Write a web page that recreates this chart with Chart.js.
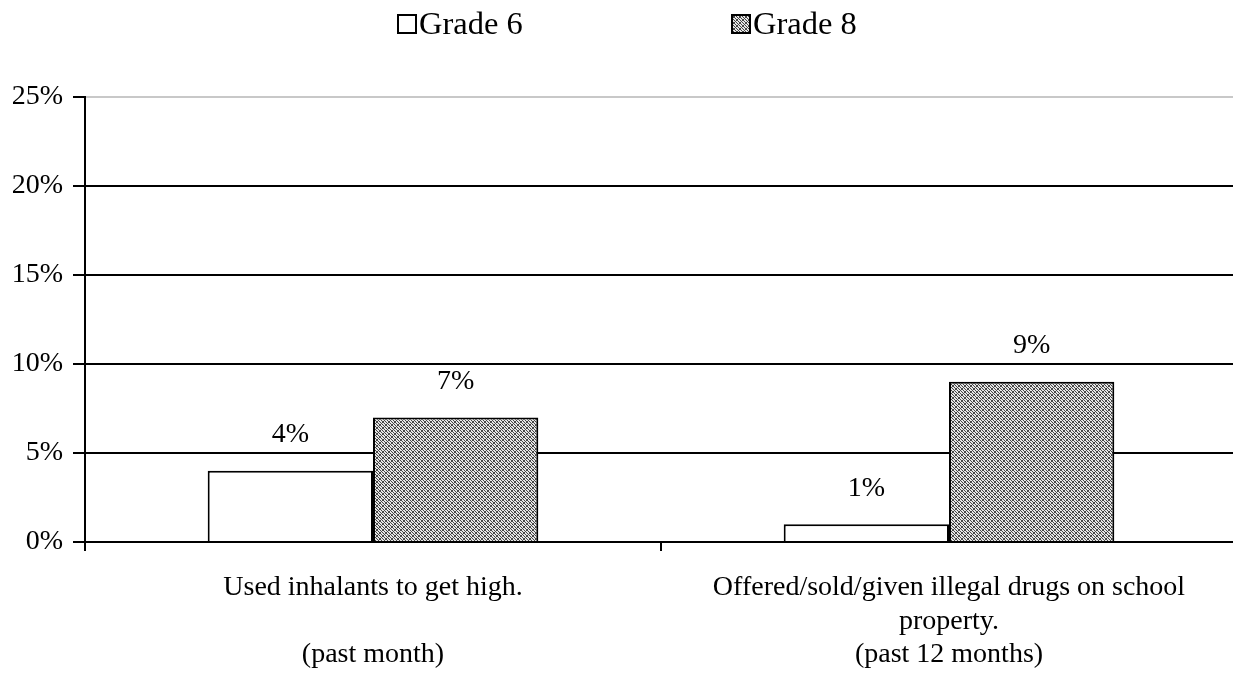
<!DOCTYPE html>
<html>
<head>
<meta charset="utf-8">
<script src="https://cdn.jsdelivr.net/npm/chart.js@4/dist/chart.umd.min.js"></script>
<style>
html,body{margin:0;padding:0;background:#fff;overflow:hidden;}
#wrap{width:1238px;height:691px;position:relative;}
</style>
</head>
<body>
<div id="wrap"><canvas id="c"></canvas></div>
<script>
const categories = [
  ["Used inhalants to get high.", "", "(past month)"],
  ["Offered/sold/given illegal drugs on school", "property.", "(past 12 months)"]
];
const seriesNames = ["Grade 6", "Grade 8"];
const grade6 = [4, 1];
const grade8 = [7, 9];
const yTicks = [0, 5, 10, 15, 20, 25];

const FONT = "'Liberation Serif', 'Times New Roman', serif";

function makeHatch() {
  const size = 6;
  const cv = document.createElement('canvas');
  cv.width = size; cv.height = size;
  const cx = cv.getContext('2d');
  const img = cx.createImageData(size, size);
  for (let y = 0; y < size; y++) {
    for (let x = 0; x < size; x++) {
      const i = (y * size + x) * 4;
      const dark = ((x - y + 6) % 3 === 0) || ((x + y) % 6 === 0);
      const v = dark ? 70 : 230;
      img.data[i] = v; img.data[i+1] = v; img.data[i+2] = v; img.data[i+3] = 255;
    }
  }
  cx.putImageData(img, 0, 0);
  return cx.createPattern(cv, 'repeat');
}
const hatch = makeHatch();

const valueLabels = {
  id: 'valueLabels',
  afterDatasetsDraw(chart) {
    const ctx = chart.ctx;
    ctx.save();
    ctx.font = "28px " + FONT;
    ctx.fillStyle = '#000';
    ctx.textAlign = 'center';
    ctx.textBaseline = 'middle';
    chart.data.datasets.forEach((ds, di) => {
      chart.getDatasetMeta(di).data.forEach((bar, i) => {
        ctx.fillText(ds.data[i] + '%', bar.x, bar.y - 36);
      });
    });
    ctx.restore();
  }
};

const customLegend = {
  id: 'customLegend',
  afterDraw(chart) {
    const ctx = chart.ctx;
    const starts = [0.3207, 0.5905];
    ctx.save();
    ctx.font = "32.5px " + FONT;
    ctx.textBaseline = 'middle';
    ctx.textAlign = 'left';
    chart.data.datasets.forEach((ds, i) => {
      const x = Math.round(chart.width * starts[i]);
      const y = 14;
      const s = 20;
      ctx.fillStyle = ds.backgroundColor;
      ctx.fillRect(x, y, s, s);
      ctx.strokeStyle = '#000';
      ctx.lineWidth = 2;
      ctx.strokeRect(x + 1, y + 1, s - 2, s - 2);
      ctx.fillStyle = '#000';
      ctx.fillText(ds.label, x + s + 2, y + s / 2 + 1);
    });
    ctx.restore();
  }
};

new Chart(document.getElementById('c'), {
  type: 'bar',
  data: {
    labels: categories,
    datasets: [
      { label: seriesNames[0], data: grade6, backgroundColor: '#ffffff', borderColor: '#000', borderWidth: 2 },
      { label: seriesNames[1], data: grade8, backgroundColor: hatch, borderColor: '#000', borderWidth: 2 }
    ]
  },
  plugins: [valueLabels, customLegend],
  options: {
    responsive: true,
    maintainAspectRatio: false,
    animation: false,
    categoryPercentage: 0.574,
    barPercentage: 1.0,
    layout: { padding: { top: 97, right: 1, bottom: 0, left: 0 } },
    plugins: {
      legend: { display: false },
      tooltip: { enabled: false }
    },
    scales: {
      x: {
        offset: true,
        afterFit(scale) { scale.height = 149; },
        border: { color: '#000', width: 2 },
        grid: { offset: true, drawOnChartArea: false, drawTicks: true, tickLength: 9, color: '#000', lineWidth: 2 },
        ticks: { color: '#000', font: { family: FONT, size: 28, lineHeight: 1.2 }, padding: 20, maxRotation: 0, autoSkip: false }
      },
      y: {
        min: 0, max: 25,
        afterFit(scale) { scale.width = 85; },
        afterBuildTicks(scale) { scale.ticks = yTicks.map(v => ({ value: v })); },
        border: { color: '#000', width: 2 },
        grid: {
          color: (c) => (c.tick && c.tick.value === 25) ? '#c8c8c8' : '#000',
          lineWidth: 2,
          tickColor: '#000',
          tickLength: 12
        },
        ticks: { color: '#000', font: { family: FONT, size: 28 }, padding: 10, callback: (v) => v + '%' }
      }
    }
  }
});
</script>
</body>
</html>
